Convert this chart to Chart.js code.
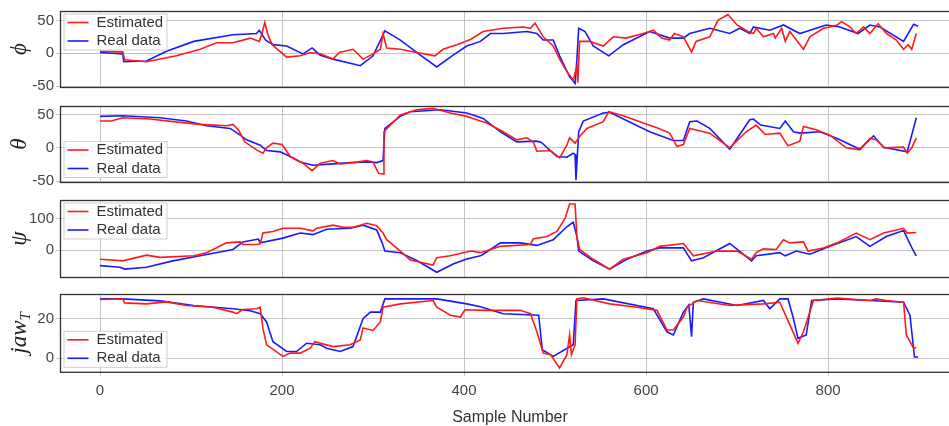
<!DOCTYPE html>
<html>
<head>
<meta charset="utf-8">
<script src="https://cdn.jsdelivr.net/npm/chart.js@4.4.1/dist/chart.umd.min.js"></script>
<style>
  html, body { margin: 0; padding: 0; background: #fff; overflow: hidden; }
  body { width: 949px; height: 426px; position: relative; }
  canvas { position: absolute; left: 0; }
</style>
</head>
<body>
<canvas id="phiChart"></canvas>
<canvas id="thetaChart"></canvas>
<canvas id="psiChart"></canvas>
<canvas id="jawChart"></canvas>
<script>
// [sample, value]
const phiEst = [[0,3],[25,2],[27,-10],[51,-13],[84,-4],[110,6],[128,16],[146,16],[165,23],[175,18],[178,30],[181,47],[184,30],[189,13],[205,-6],[220,-4],[231,1],[242,-1],[256,-9],[263,1],[278,6],[289,-9],[300,-1],[308,6],[311,30],[315,8],[330,6],[348,1],[368,-4],[377,6],[392,13],[407,21],[421,33],[443,38],[465,40],[473,38],[478,46],[487,25],[498,11],[505,-9],[513,-28],[520,-41],[522,-30],[524,-21],[525,-45],[527,18],[538,18],[553,11],[564,25],[578,23],[597,30],[608,35],[617,23],[626,20],[631,30],[641,25],[650,2],[655,18],[670,25],[679,50],[690,59],[700,43],[712,33],[718,30],[721,38],[729,25],[740,30],[742,23],[749,38],[753,18],[758,33],[773,6],[780,25],[795,38],[802,40],[810,43],[815,48],[824,40],[831,30],[839,40],[846,30],[855,45],[864,30],[875,20],[883,6],[888,13],[892,6],[897,30]];
const phiReal = [[0,1],[25,-1],[26,-13],[51,-12],[73,3],[103,18],[146,28],[172,30],[175,35],[182,20],[190,13],[205,11],[223,-1],[233,8],[242,-3],[256,-9],[286,-19],[300,-4],[313,34],[330,20],[352,-3],[370,-21],[388,-3],[403,11],[418,18],[429,30],[443,30],[469,33],[480,30],[487,20],[498,20],[505,-4],[516,-36],[522,-46],[524,-10],[526,38],[533,33],[542,11],[559,-4],[575,13],[604,33],[626,23],[641,23],[648,30],[670,38],[692,30],[703,38],[714,30],[718,40],[736,35],[751,43],[769,30],[798,43],[813,40],[833,30],[846,43],[857,40],[883,18],[894,44],[899,41]];

const thetaEst = [[0,40],[12,40],[25,45],[55,43],[88,38],[110,35],[139,33],[146,35],[152,27],[159,9],[172,-3],[179,-8],[183,0],[190,7],[200,5],[209,-13],[223,-23],[233,-34],[242,-23],[256,-19],[264,-24],[278,-22],[293,-19],[300,-21],[306,-38],[311,-39],[312,24],[330,49],[348,57],[366,59],[385,52],[403,47],[418,40],[425,37],[443,24],[458,12],[469,15],[476,9],[480,-5],[495,-4],[505,-15],[513,4],[516,15],[522,7],[527,17],[535,29],[553,39],[559,54],[575,48],[597,37],[612,30],[626,22],[634,2],[641,5],[648,29],[670,22],[692,0],[710,24],[721,34],[731,20],[747,22],[756,3],[769,10],[773,32],[787,27],[802,19],[820,0],[835,-3],[846,14],[853,12],[862,0],[883,1],[887,-8],[892,0],[897,15]];
const thetaReal = [[0,47],[25,48],[66,45],[95,40],[117,33],[143,29],[154,19],[161,12],[176,4],[183,-4],[198,-6],[209,-13],[220,-21],[234,-26],[256,-24],[275,-22],[293,-21],[304,-22],[311,-19],[313,29],[330,47],[341,54],[374,57],[403,52],[421,44],[440,24],[458,9],[480,10],[485,8],[502,-13],[513,-14],[520,-8],[522,-10],[523,-48],[526,24],[531,40],[553,52],[560,53],[604,24],[630,11],[641,11],[648,39],[656,40],[670,29],[692,-2],[714,42],[718,43],[726,34],[747,29],[753,40],[762,24],[769,22],[791,24],[810,14],[835,-2],[850,18],[861,1],[887,-6],[897,45]];

const psiEst = [[0,-29],[25,-34],[51,-16],[66,-23],[103,-18],[117,-8],[139,23],[154,26],[157,18],[172,18],[176,20],[179,54],[190,59],[201,69],[220,69],[234,61],[238,69],[256,79],[267,72],[278,72],[286,79],[293,85],[304,77],[311,54],[315,33],[330,-3],[341,-31],[366,-47],[370,-24],[385,-18],[399,-8],[408,-3],[418,-8],[440,12],[473,18],[476,35],[491,43],[502,59],[511,100],[516,146],[522,146],[524,43],[527,2],[542,-29],[560,-60],[575,-29],[601,-8],[615,12],[641,21],[652,-18],[678,-3],[700,-3],[716,-29],[721,-8],[729,4],[743,2],[751,33],[758,23],[773,26],[778,-3],[795,7],[810,23],[831,54],[846,33],[861,54],[883,69],[887,54],[897,56]];
const psiReal = [[0,-49],[22,-54],[27,-60],[51,-54],[80,-34],[110,-18],[146,2],[157,26],[174,35],[176,23],[201,38],[220,54],[234,49],[249,66],[275,69],[289,79],[304,64],[310,23],[313,-3],[330,-8],[348,-33],[370,-70],[388,-44],[403,-28],[418,-18],[421,-13],[440,23],[462,23],[480,15],[498,33],[513,74],[520,89],[524,43],[526,-3],[542,-34],[560,-60],[579,-29],[601,-3],[615,7],[641,7],[650,-34],[663,-24],[692,21],[716,-34],[721,-18],[747,-8],[753,-18],[765,-3],[780,-13],[802,12],[831,43],[846,12],[864,43],[883,62],[893,2],[897,-18]];

const jawEst = [[0,29.7],[25,30],[27,28],[51,27.5],[73,28.5],[95,26.7],[124,25.8],[146,23.3],[150,22.5],[157,24.6],[172,25],[176,25.8],[179,15],[183,6.7],[201,0.8],[209,2.5],[220,2.5],[231,5],[236,8.3],[256,5.8],[275,6.7],[286,9.2],[289,15.3],[300,14],[308,18.3],[311,25.8],[330,27.5],[366,29.2],[370,25.8],[385,21.7],[396,20.8],[401,24.5],[425,24.2],[462,24.2],[473,22.5],[480,13.3],[487,2.5],[495,1.7],[505,-5],[513,1.7],[516,11.7],[518,1.7],[522,6.7],[524,30],[531,30.6],[560,27.5],[590,25.8],[612,24.2],[623,14.2],[630,14.2],[641,20.8],[645,25.8],[656,29.2],[692,26.7],[729,27.5],[747,28.3],[755,20],[767,7.5],[773,13.3],[784,29.2],[810,30.4],[846,29.2],[853,30],[864,29.2],[883,28.3],[886,11.7],[894,5],[897,5.3]];
const jawReal = [[0,30],[25,30],[66,29],[103,26.7],[146,25],[165,24],[176,22.5],[183,18.3],[190,8.3],[205,3.3],[216,3.3],[227,7.5],[242,6.7],[249,5],[264,3.3],[278,5.8],[289,20],[297,23.3],[308,23.3],[313,30],[370,30],[403,27.5],[418,26],[443,22.5],[482,21.7],[486,4.2],[498,0.8],[520,6.7],[523,29.2],[553,30],[608,25],[623,13.3],[630,11.7],[641,23.3],[647,27],[650,10.8],[652,28.3],[663,30],[700,26.7],[729,29.2],[736,25],[747,30],[756,30],[762,20],[767,10],[776,11.7],[782,29.2],[810,30],[846,29.2],[883,28.3],[890,21.7],[895,0.5],[899,0.5]];

const xTicks = [0, 200, 400, 600, 800];
const phiTicks = [-50, 0, 50];
const thetaTicks = [-50, 0, 50];
const psiTicks = [0, 100];
const jawTicks = [0, 20];
const seriesNames = ['Estimated', 'Real data'];

const RED = '#ff1a1a';
const BLUE = '#1a1aff';
const FONT = "'Liberation Sans', Arial, sans-serif";

// frame, legend box and axis symbol
const decorPlugin = {
    id: 'decor',
    afterDraw(chart) {
        const ctx = chart.ctx;
        const a = chart.chartArea;
        const o = chart.options.plugins.decor;
        ctx.save();

        ctx.strokeStyle = '#333';
        ctx.lineWidth = 1.3;
        ctx.strokeRect(a.left + 0.5, a.top + 0.5, a.right - a.left, a.bottom - a.top);

        // legend
        const bw = 103, bh = 36;
        const bx = a.left + 3.5;
        const by = o.legend === 'top' ? a.top + 2.5 : a.bottom - 5 - bh;
        ctx.fillStyle = 'rgba(255,255,255,0.85)';
        ctx.strokeStyle = '#d0d0d0';
        ctx.lineWidth = 1;
        ctx.fillRect(bx, by, bw, bh);
        ctx.strokeRect(bx + 0.5, by + 0.5, bw, bh);
        ctx.font = '15px ' + FONT;
        ctx.textBaseline = 'middle';
        ctx.textAlign = 'left';
        [RED, BLUE].forEach((c, i) => {
            const y = by + 9 + i * 18.5;
            ctx.strokeStyle = c;
            ctx.lineWidth = 1.6;
            ctx.beginPath();
            ctx.moveTo(bx + 4, y);
            ctx.lineTo(bx + 25, y);
            ctx.stroke();
            ctx.fillStyle = '#333';
            ctx.fillText(seriesNames[i], bx + 33, y);
        });

        // y label (rotated)
        const cy = (a.top + a.bottom) / 2;
        ctx.translate(19, cy);
        ctx.rotate(-Math.PI / 2);
        ctx.fillStyle = '#222';
        ctx.textBaseline = 'alphabetic';
        const mainFont = "italic 23px 'Liberation Serif', 'DejaVu Serif', serif";
        const subFont = "italic 15px 'Liberation Serif', 'DejaVu Serif', serif";
        ctx.font = mainFont;
        const w1 = ctx.measureText(o.symbol).width;
        let w2 = 0;
        if (o.sub) {
            ctx.font = subFont;
            w2 = ctx.measureText(o.sub).width;
        }
        const x0 = -(w1 + w2) / 2;
        ctx.font = mainFont;
        ctx.fillText(o.symbol, x0, 7);
        if (o.sub) {
            ctx.font = subFont;
            ctx.fillText(o.sub, x0 + w1, 11);
        }
        ctx.restore();
    }
};

function toPoints(arr) {
    return arr.map(([x, y]) => ({ x: x, y: y }));
}

function makePanel(id, top, height, est, real, yTicks, ymin, ymax, symbol, sub, legend, bottom) {
    const canvas = document.getElementById(id);
    const padTop = 10;
    const canvasTop = top - padTop;
    const canvasH = bottom ? 430 - canvasTop : height + 20;
    canvas.width = 970;
    canvas.height = canvasH;
    canvas.style.top = canvasTop + 'px';

    return new Chart(canvas, {
        type: 'line',
        data: {
            datasets: [
                { label: seriesNames[0], data: toPoints(est), borderColor: RED, borderWidth: 1.6, pointRadius: 0, tension: 0 },
                { label: seriesNames[1], data: toPoints(real), borderColor: BLUE, borderWidth: 1.6, pointRadius: 0, tension: 0 }
            ]
        },
        options: {
            responsive: false,
            animation: false,
            devicePixelRatio: 1,
            layout: { padding: { top: padTop, bottom: bottom ? 0 : 10, left: 0, right: 10 } },
            scales: {
                x: {
                    type: 'linear',
                    min: -44,
                    max: 945,
                    afterBuildTicks: s => { s.ticks = xTicks.map(v => ({ value: v })); },
                    grid: { color: '#c4c4c4', lineWidth: 1, drawTicks: bottom, tickLength: 4 },
                    border: { display: false },
                    ticks: {
                        display: bottom,
                        color: '#444',
                        padding: 6,
                        font: { family: FONT, size: 15 },
                        maxRotation: 0
                    },
                    title: {
                        display: bottom,
                        text: 'Sample Number',
                        color: '#333',
                        font: { family: FONT, size: 16 },
                        padding: { top: 2, bottom: 3 }
                    }
                },
                y: {
                    min: ymin,
                    max: ymax,
                    afterBuildTicks: s => { s.ticks = yTicks.map(v => ({ value: v })); },
                    afterFit: s => { s.width = 60; },
                    grid: { color: '#c4c4c4', lineWidth: 1, drawTicks: true, tickLength: 4 },
                    border: { display: false },
                    ticks: {
                        color: '#444',
                        padding: 2,
                        font: { family: FONT, size: 15 }
                    }
                }
            },
            plugins: {
                legend: { display: false },
                tooltip: { enabled: false },
                decor: { symbol: symbol, sub: sub, legend: legend }
            }
        },
        plugins: [decorPlugin]
    });
}

makePanel('phiChart', 10, 78, phiEst, phiReal, phiTicks, -51.5, 64.3, '\u03D5', '', 'top', false);
makePanel('thetaChart', 105, 78, thetaEst, thetaReal, thetaTicks, -51, 62.5, '\u03B8', '', 'bottom', false);
makePanel('psiChart', 199, 79, psiEst, psiReal, psiTicks, -85, 158.6, '\u03C8', '', 'top', false);
makePanel('jawChart', 293, 79, jawEst, jawReal, jawTicks, -7, 32.5, 'jaw', 'T', 'bottom', true);
</script>
</body>
</html>
